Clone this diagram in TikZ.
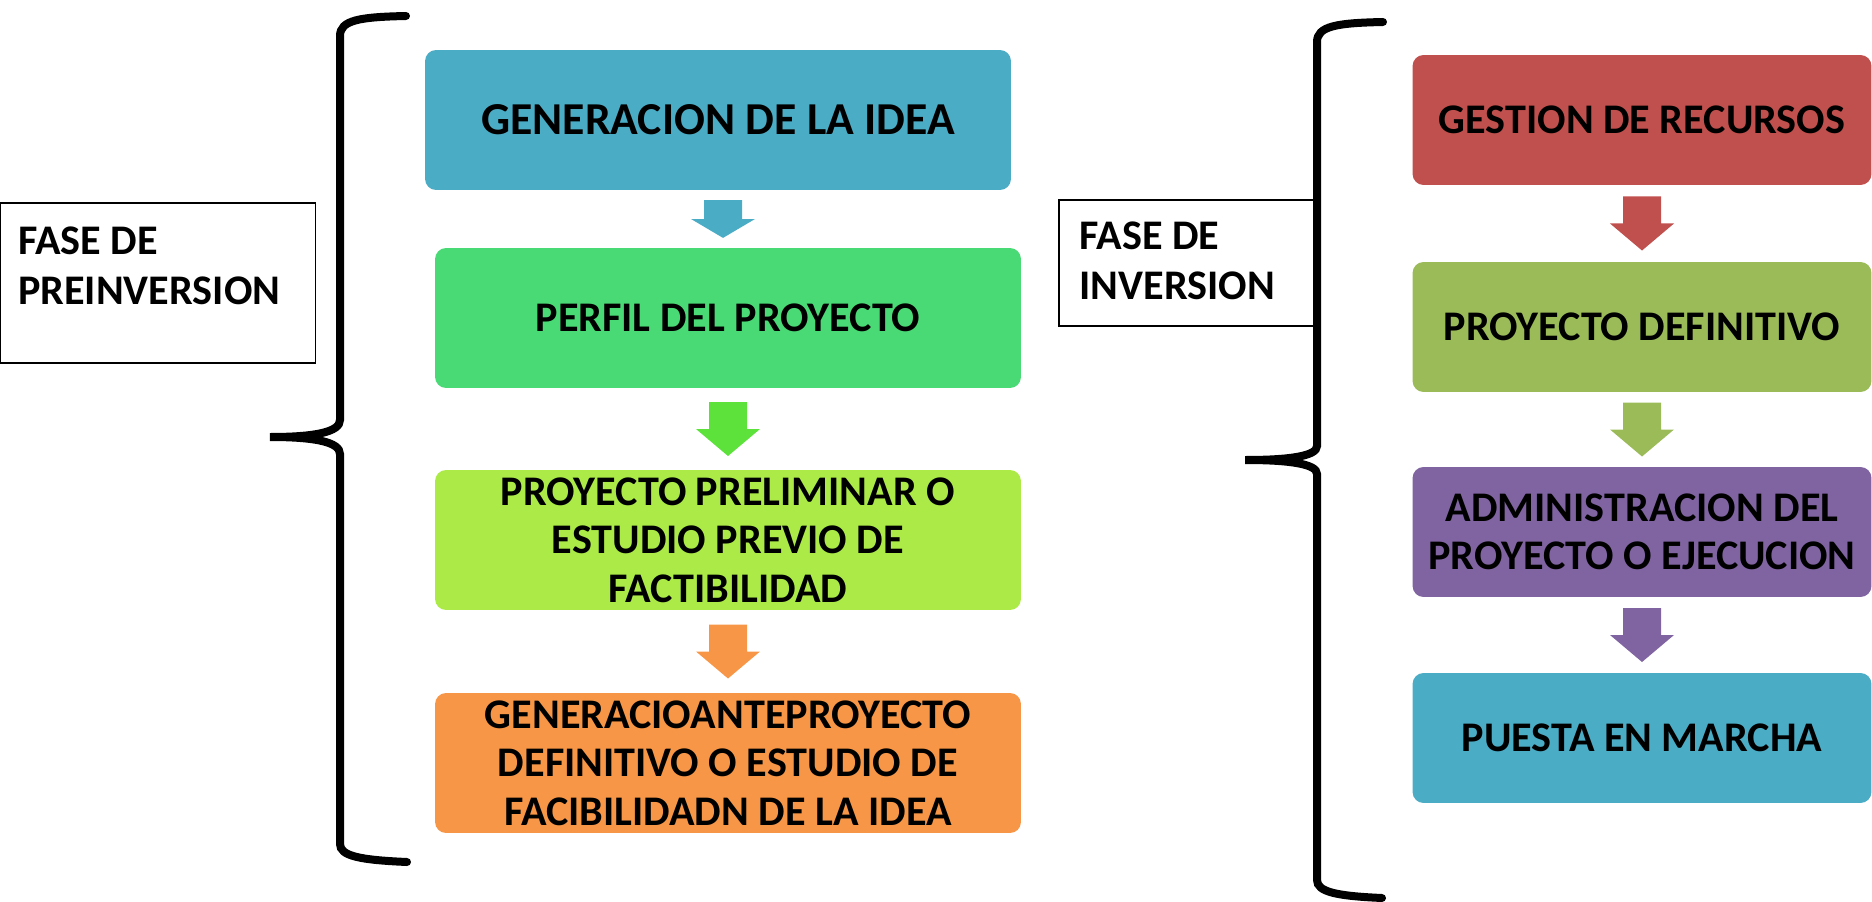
\documentclass[tikz,border=0pt]{standalone}
\usepackage{fontspec}
\setmainfont{Carlito}
\usepackage{tikz}
\usetikzlibrary{calc,positioning}
\definecolor{azul}{RGB}{75,172,198}
\definecolor{verde}{RGB}{73,218,117}
\definecolor{verdef}{RGB}{92,226,58}
\definecolor{lima}{RGB}{172,234,72}
\definecolor{naranja}{RGB}{247,150,70}
\definecolor{rojo}{RGB}{192,80,77}
\definecolor{oliva}{RGB}{155,187,89}
\definecolor{morado}{RGB}{128,100,162}

% flecha gruesa entre dos cajas
\newcommand{\flecha}[3]{%
\fill[#3,shift={($(#1.south)!0.5!(#2.north)$)}](-19,-27)--(19,-27)--(19,0)--(32,0)--(0,27)--(-32,0)--(-19,0)--cycle;}

\begin{document}
\begin{tikzpicture}[x=0.02cm,y=-0.02cm,
  caja/.style={rounded corners=0.22cm,minimum width=11.72cm,minimum height=2.8cm,align=center,inner sep=0pt,font=\fontsize{24}{27.5}\selectfont\bfseries},
  cajad/.style={caja,minimum width=9.18cm,minimum height=2.6cm},
  fase/.style={draw,line width=0.8pt,inner sep=0pt},
  texto/.style={align=left,inner sep=0pt,anchor=north west,font=\fontsize{24}{28.5}\selectfont\bfseries},
  llave/.style={line width=0.16cm,line cap=round}]
\useasboundingbox(0,0)rectangle(1872,902);

% fase de preinversion
\node[fase,minimum width=6.3cm,minimum height=3.2cm](pre)at(158,283){};
\node[texto](pretxt)at($(pre.north west)+(18,24)$){FASE DE\\PREINVERSION};
\draw[llave](406,16)..controls(360,17)and(340,20)..(340,36)--(340,420)
  ..controls(340,432)and(315,437)..(270,437)..controls(315,437)and(340,442)..(340,454)
  --(340,844)..controls(340,856)and(360,860)..(407,862);

\node[caja,fill=azul,font=\fontsize{26}{28}\selectfont\bfseries](idea)at(718,120){GENERACION DE LA IDEA};
\node[caja,fill=verde](perfil)at(728,318){PERFIL DEL PROYECTO};
\node[caja,fill=lima](prelim)at(728,540){PROYECTO PRELIMINAR O\\ESTUDIO PREVIO DE\\FACTIBILIDAD};
\node[caja,fill=naranja](ante)at(728,763){GENERACIOANTEPROYECTO\\DEFINITIVO O ESTUDIO DE\\FACIBILIDADN DE LA IDEA};
\flecha{idea}{perfil}{azul,yscale=0.7}
\flecha{perfil}{prelim}{verdef}
\flecha{prelim}{ante}{naranja}

% fase de inversion
\node[fase,minimum width=5.16cm,minimum height=2.52cm](inv)at(1188,263){};
\node[texto](invtxt)at($(inv.north west)+(21,22)$){FASE DE\\INVERSION};
\draw[llave](1383,22)..controls(1337,23)and(1317,26)..(1317,42)--(1317,446)
  ..controls(1317,456)and(1290,460)..(1245,460)..controls(1290,460)and(1317,464)..(1317,474)
  --(1317,880)..controls(1317,892)and(1337,896)..(1382,898);

\node[cajad,fill=rojo](gestion)at(1642,120){GESTION DE RECURSOS};
\node[cajad,fill=oliva](definitivo)at(1642,327){PROYECTO DEFINITIVO};
\node[cajad,fill=morado](admin)at(1642,532){ADMINISTRACION DEL\\PROYECTO O EJECUCION};
\node[cajad,fill=azul](puesta)at(1642,738){PUESTA EN MARCHA};
\flecha{gestion}{definitivo}{rojo}
\flecha{definitivo}{admin}{oliva}
\flecha{admin}{puesta}{morado}
\end{tikzpicture}
\end{document}
